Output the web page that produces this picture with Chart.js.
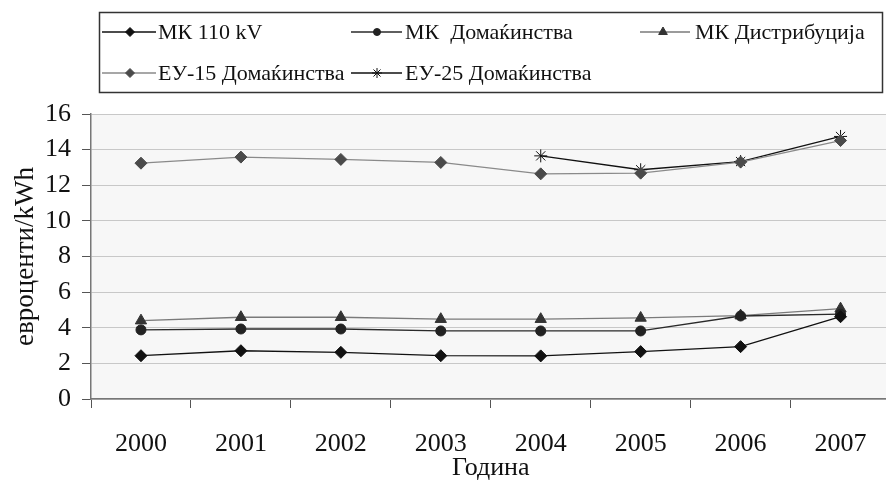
<!DOCTYPE html>
<html>
<head>
<meta charset="utf-8">
<script src="https://cdn.jsdelivr.net/npm/chart.js@4/dist/chart.umd.min.js"></script>
<style>
  html, body { margin: 0; padding: 0; background: #fff; }
  #wrap { width: 886px; height: 481px; overflow: hidden; position: relative; }
  #box { width: 898px; height: 481px; }
</style>
</head>
<body>
<div id="wrap"><div id="box"><canvas id="c"></canvas></div></div>
<script>
// Цени на електрична енергија 2000-2007 (евроценти/kWh)
const years       = ['2000', '2001', '2002', '2003', '2004', '2005', '2006', '2007'];
const mk110kV     = [2.43, 2.71, 2.62, 2.43, 2.42, 2.66, 2.94, 4.62];
const mkHouse     = [3.88, 3.93, 3.93, 3.82, 3.82, 3.82, 4.66, 4.76];
const mkDistrib   = [4.40, 4.59, 4.59, 4.48, 4.48, 4.55, 4.68, 5.07];
const eu15House   = [13.24, 13.58, 13.45, 13.28, 12.64, 12.68, 13.30, 14.51];
const eu25House   = [null, null, null, null, 13.65, 12.87, 13.33, 14.74];
const yTicks      = [0, 2, 4, 6, 8, 10, 12, 14, 16];

const SERIF = "'Liberation Serif', 'DejaVu Serif', serif";

const datasets = [
  { label: 'МК 110 kV',           data: mk110kV,   borderColor: '#111', pointBackgroundColor: '#111', pointBorderColor: '#111', pointStyle: 'rectRot',  pointRadius: 6 },
  { label: 'МК  Домаќинства',     data: mkHouse,   borderColor: '#2a2a2a', pointBackgroundColor: '#222', pointBorderColor: '#222', pointStyle: 'circle',   pointRadius: 5 },
  { label: 'МК Дистрибуција',     data: mkDistrib, borderColor: '#7a7a7a', pointBackgroundColor: '#333', pointBorderColor: '#333', pointStyle: 'triangle', pointRadius: 6.5 },
  { label: 'ЕУ-15 Домаќинства',   data: eu15House, borderColor: '#8a8a8a', pointBackgroundColor: '#4a4a4a', pointBorderColor: '#4a4a4a', pointStyle: 'rectRot',  pointRadius: 6 },
  { label: 'ЕУ-25 Домаќинства',   data: eu25House, borderColor: '#111', pointBackgroundColor: '#111', pointBorderColor: '#111', pointStyle: 'star',     pointRadius: 6.5 },
].map(d => Object.assign({ borderWidth: 1.3, pointBorderWidth: 1, tension: 0, spanGaps: false, fill: false }, d));

// позадина на површината за цртање
const plotBg = {
  id: 'plotBg',
  beforeDraw(chart) {
    const { ctx, chartArea: a } = chart;
    ctx.save();
    ctx.fillStyle = '#f7f7f7';
    ctx.fillRect(a.left, a.top, a.right - a.left, a.bottom - a.top);
    ctx.restore();
  },
};

// легенда во рамка, во колони како во оригиналот
const boxLegend = {
  id: 'boxLegend',
  afterDraw(chart) {
    const ctx = chart.ctx;
    const cols = [
      { l1: 102, l2: 156, m: 130, t: 158 },
      { l1: 351, l2: 402, m: 377, t: 405 },
      { l1: 640, l2: 690, m: 663, t: 695 },
    ];
    const rows = [32, 73];
    const place = [[0, 0], [1, 0], [2, 0], [0, 1], [1, 1]];
    ctx.save();
    ctx.strokeStyle = '#333';
    ctx.lineWidth = 1.5;
    ctx.strokeRect(99.5, 12.5, 783, 80);
    ctx.font = '22px ' + SERIF;
    ctx.textBaseline = 'middle';
    ctx.textAlign = 'left';
    chart.data.datasets.forEach((ds, i) => {
      const c = cols[place[i][0]], y = rows[place[i][1]];
      ctx.strokeStyle = ds.borderColor;
      ctx.lineWidth = 1.3;
      ctx.beginPath();
      ctx.moveTo(c.l1, y);
      ctx.lineTo(c.l2, y);
      ctx.stroke();
      ctx.fillStyle = ds.pointBackgroundColor;
      ctx.strokeStyle = ds.pointBorderColor;
      ctx.lineWidth = 1;
      Chart.helpers.drawPoint(ctx, { pointStyle: ds.pointStyle, rotation: 0, radius: ds.pointRadius - 1.5, borderWidth: 1 }, c.m, y);
      ctx.fillStyle = '#111';
      ctx.fillText(ds.label, c.t, y + 1);
    });
    ctx.restore();
  },
};

new Chart(document.getElementById('c'), {
  type: 'line',
  data: { labels: years, datasets },
  plugins: [plotBg, boxLegend],
  options: {
    responsive: true,
    maintainAspectRatio: false,
    animation: false,
    layout: { padding: { top: 114, right: 0, left: 0, bottom: 0 } },
    plugins: {
      legend:  { display: false },
      tooltip: { enabled: false },
    },
    scales: {
      x: {
        type: 'category',
        offset: true,
        grid: { offset: true, drawOnChartArea: false, drawTicks: true, tickLength: 9, color: '#555', tickColor: '#555' },
        border: { color: '#777', width: 1.5 },
        ticks: { font: { family: SERIF, size: 26 }, color: '#111', padding: 21, maxRotation: 0 },
        title: { display: true, text: 'Година', font: { family: SERIF, size: 26, lineHeight: 1 }, color: '#111', padding: 0 },
        afterFit(scale) { scale.height = 82; },
      },
      y: {
        min: 0,
        max: 16,
        afterBuildTicks(scale) { scale.ticks = yTicks.map(v => ({ value: v })); },
        grid: { color: '#c8c8c8', tickColor: '#555', tickLength: 9, lineWidth: 1 },
        border: { color: '#777', width: 1.5 },
        ticks: { font: { family: SERIF, size: 26 }, color: '#111', padding: 11 },
        title: { display: true, text: 'евроценти/kWh', font: { family: SERIF, size: 27, lineHeight: 1 }, color: '#111', padding: { top: 12, bottom: 0 } },
        afterFit(scale) { scale.width = 91; },
      },
    },
  },
});
</script>
</body>
</html>
